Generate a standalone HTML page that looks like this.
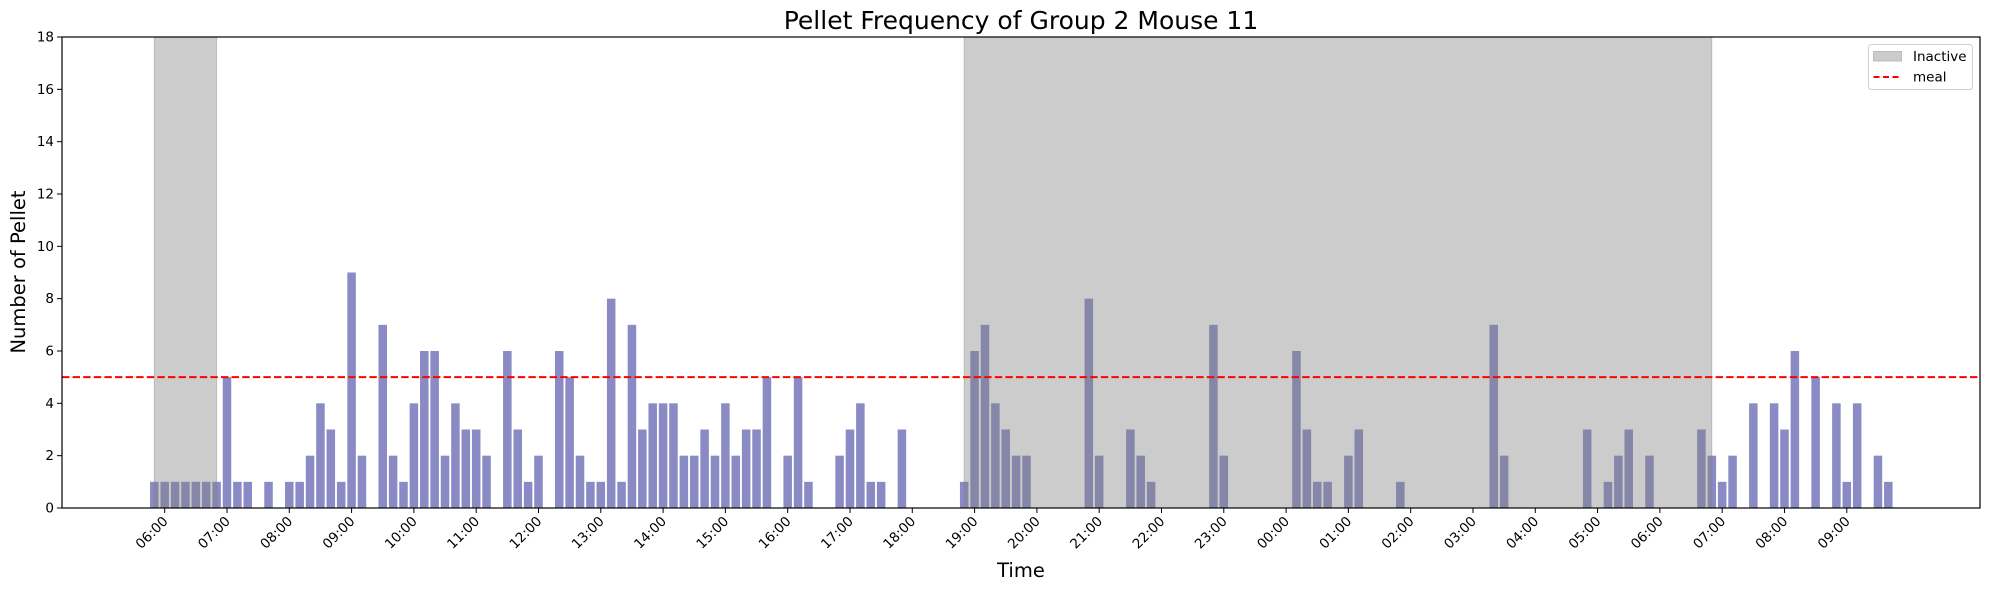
<!DOCTYPE html>
<html><head><meta charset="utf-8"><style>
html,body{margin:0;padding:0;background:#fff;}
svg{display:block;font-family:"DejaVu Sans","Liberation Sans",sans-serif;}
</style></head><body>
<svg id="chart" width="1990" height="590" viewBox="0 0 1990 590" xmlns="http://www.w3.org/2000/svg">
<rect x="0" y="0" width="1990" height="590" fill="#fff"/>
<g id="plot"></g>
</svg>
<script>
// Bin start: minutes since 00:00 day 1 of first bar (05:50), 10-min bins
const binStartMinutes = 350;
const binSizeMinutes = 10;
const pelletCounts = [1,1,1,1,1,1,1,5,1,1,0,1,0,1,1,2,4,3,1,9,2,0,7,2,1,4,6,6,2,4,3,3,2,0,6,3,1,2,0,6,5,2,1,1,8,1,7,3,4,4,4,2,2,3,2,4,2,3,3,5,0,2,5,1,0,0,2,3,4,1,1,0,3,0,0,0,0,0,1,6,7,4,3,2,2,0,0,0,0,0,8,2,0,0,3,2,1,0,0,0,0,0,7,2,0,0,0,0,0,0,6,3,1,1,0,2,3,0,0,0,1,0,0,0,0,0,0,0,0,7,2,0,0,0,0,0,0,0,3,0,1,2,3,0,2,0,0,0,0,3,2,1,2,0,4,0,4,3,6,0,5,0,4,1,4,0,2,1];
const inactiveStarts = [350, 1130];
const inactiveEnds = [410, 1850];
const mealThreshold = [5];
const yTicks = [0,2,4,6,8,10,12,14,16,18];
const xTickMinutes = [360,420,480,540,600,660,720,780,840,900,960,1020,1080,1140,1200,1260,1320,1380,1440,1500,1560,1620,1680,1740,1800,1860,1920,1980];
const xTickLabels = ["06:00","07:00","08:00","09:00","10:00","11:00","12:00","13:00","14:00","15:00","16:00","17:00","18:00","19:00","20:00","21:00","22:00","23:00","00:00","01:00","02:00","03:00","04:00","05:00","06:00","07:00","08:00","09:00"];

const L=62, R=1980, T=37, B=508;
const xMin=261.1, xMax=2108.3, yMax=18;
const NS="http://www.w3.org/2000/svg";
function x(m){return L+(m-xMin)/(xMax-xMin)*(R-L);}
function y(v){return B-v/yMax*(B-T);}
const g=document.getElementById('plot');
function mk(tag,attrs,parent){const e=document.createElementNS(NS,tag);for(const k in attrs)e.setAttribute(k,attrs[k]);(parent||g).appendChild(e);return e;}

const barW=(x(binSizeMinutes)-x(0))*0.82;
pelletCounts.forEach((v,i)=>{
  if(v<=0) return;
  const c=x(binStartMinutes+i*binSizeMinutes);
  const r=mk('rect',{x:c-barW/2,y:y(v),width:barW,height:y(0)-y(v),fill:'#8a8ac4'});
  
  
});
inactiveStarts.forEach((s,i)=>{
  const r=mk('rect',{x:x(s),y:T,width:x(inactiveEnds[i])-x(s),height:B-T,fill:'#808080','fill-opacity':0.4,stroke:'#808080','stroke-opacity':0.4,'stroke-width':1});
  
  
});
const ml=mk('line',{x1:L,x2:R,y1:y(mealThreshold[0]),y2:y(mealThreshold[0]),stroke:'#ff0000','stroke-width':2,'stroke-dasharray':'7.4,3.2'});


const fr=mk('rect',{x:L,y:T,width:R-L,height:B-T,fill:'none',stroke:'#000','stroke-width':1.2});


yTicks.forEach(v=>{
  mk('line',{x1:L-5,x2:L,y1:y(v),y2:y(v),stroke:'#000','stroke-width':1});
  const t=mk('text',{x:L-8,y:y(v)+4.5,'text-anchor':'end','font-size':13.5,fill:'#000'});
  t.textContent=v;
  
  
});
xTickMinutes.forEach((m,i)=>{
  const px=x(m);
  mk('line',{x1:px,x2:px,y1:B,y2:B+5,stroke:'#000','stroke-width':1});
  const t=mk('text',{x:px+4,y:B+14,'text-anchor':'end','font-size':13.5,fill:'#000',transform:`rotate(-45 ${px+4} ${B+14})`});
  t.textContent=xTickLabels[i];
  
  
});
</script>
<script>
const svg=document.getElementById('chart');
function add(tag,attrs,text){const e=document.createElementNS("http://www.w3.org/2000/svg",tag);for(const k in attrs)e.setAttribute(k,attrs[k]);if(text)e.textContent=text;svg.appendChild(e);return e;}
const title=add('text',{x:1021,y:29,'text-anchor':'middle','font-size':25,fill:'#000'},'Pellet Frequency of Group 2 Mouse 11');


const xl=add('text',{x:1021,y:577,'text-anchor':'middle','font-size':19.5,fill:'#000'},'Time');


const yl=add('text',{x:25,y:272,'text-anchor':'middle','font-size':19.5,fill:'#000',transform:'rotate(-90 25 272)'},'Number of Pellet');


const lg=add('rect',{x:1868.5,y:44.5,width:104,height:45,rx:3,fill:'#fff','fill-opacity':0.8,stroke:'#d0d0d0','stroke-width':1});


const lp=add('rect',{x:1873.5,y:51.5,width:28,height:9.5,fill:'#cccccc',stroke:'#bdbdbd','stroke-width':1});


const lt1=add('text',{x:1913,y:61,'font-size':13.5,fill:'#000'},'Inactive');


const ll=add('line',{x1:1873.5,x2:1901.5,y1:77,y2:77,stroke:'#ff0000','stroke-width':2,'stroke-dasharray':'6,3.5'});


const lt2=add('text',{x:1913,y:81.5,'font-size':13.5,fill:'#000'},'meal');


</script>
</body></html>
